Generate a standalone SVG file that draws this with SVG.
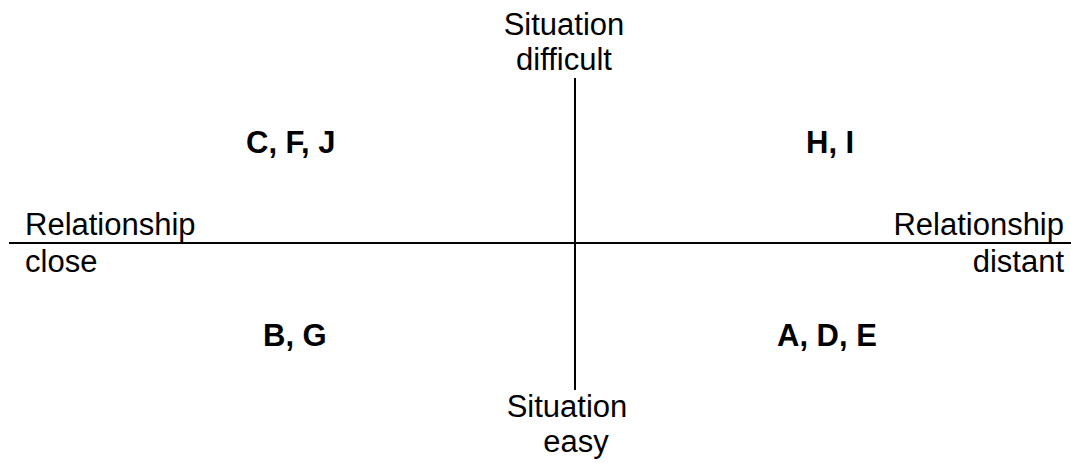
<svg xmlns="http://www.w3.org/2000/svg" width="1071" height="463" viewBox="0 0 1071 463">
<style>
text{font-family:"Liberation Sans",Arial,sans-serif;font-size:31px;fill:#000}
.b{font-weight:bold}
.axis{stroke:#000;stroke-width:2;fill:none}
</style>
<rect width="1071" height="463" fill="#fff"/>
<g id="connectors">
<line class="axis" x1="9" y1="243" x2="1071" y2="243"/>
<line class="axis" x1="575" y1="78" x2="575" y2="390"/>
</g>
<g id="top-label"><text x="564" y="35" text-anchor="middle">Situation</text><text x="564" y="70" text-anchor="middle">difficult</text></g>
<g id="bottom-label"><text x="567" y="417" text-anchor="middle">Situation</text><text x="576" y="452" text-anchor="middle">easy</text></g>
<g id="left-label"><text x="25" y="235">Relationship</text><text x="25" y="272">close</text></g>
<g id="right-label"><text x="1064" y="235" text-anchor="end">Relationship</text><text x="1064" y="272" text-anchor="end">distant</text></g>
<g id="q-tl"><text class="b" x="246" y="153">C, F, J</text></g>
<g id="q-tr"><text class="b" x="806" y="153">H, I</text></g>
<g id="q-bl"><text class="b" x="263" y="346">B, G</text></g>
<g id="q-br"><text class="b" x="777" y="346">A, D, E</text></g>
</svg>
